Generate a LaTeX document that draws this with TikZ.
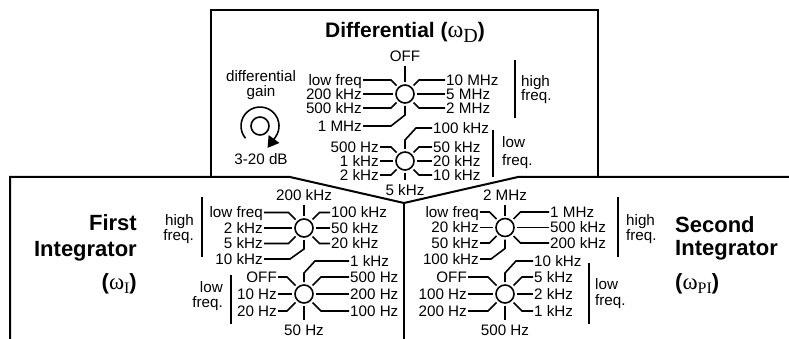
\documentclass[tikz,border=0pt]{standalone}
\usepackage{fontspec}
\setmainfont{Liberation Sans}
\newfontfamily\serifo{Liberation Serif}
\usetikzlibrary{calc,arrows.meta}
\newcommand\lblfont{\fontsize{15.2}{16}\selectfont}
\tikzset{
  lbl/.style={font=\lblfont, inner sep=1pt, text height=10.9pt, text depth=0pt},
  txt/.style={font=\lblfont, inner sep=0pt},
  swc/.style={circle, draw, minimum size=18pt, inner sep=0pt, line width=1.6pt},
  lead/.style={line width=1.6pt},
  barline/.style={line width=2pt},
  frame/.style={line width=2pt},
  ttl/.style={font=\fontsize{22}{24}\selectfont\bfseries, inner sep=0pt},
}
\newcommand\swset[6]{\def\swn{#1}\def\swcx{#2}\def\swcy{#3}\def\swdy{#4}\def\swxl{#5}\def\swxr{#6}\node[swc] (#1) at (#2,#3) {};}
\newcommand\swUL[1]{\node[lbl,anchor=east] (\swn-ul) at (\swxl,\swcy-\swdy) {#1};
  \draw[lead] (\swn-ul.east) -- ($(\swn)+(-\swdy,-\swdy)$) -- ($(\swn)+(-8.5,-8.5)$);}
\newcommand\swL[1]{\node[lbl,anchor=east] (\swn-l) at (\swxl,\swcy) {#1};
  \draw[lead] (\swn-l.east) -- ($(\swn)+(-12,0)$);}
\newcommand\swLL[1]{\node[lbl,anchor=east] (\swn-ll) at (\swxl,\swcy+\swdy) {#1};
  \draw[lead] (\swn-ll.east) -- ($(\swn)+(-\swdy,\swdy)$) -- ($(\swn)+(-8.5,8.5)$);}
\newcommand\swUR[1]{\node[lbl,anchor=west] (\swn-ur) at (\swxr,\swcy-\swdy) {#1};
  \draw[lead] (\swn-ur.west) -- ($(\swn)+(\swdy,-\swdy)$) -- ($(\swn)+(8.5,-8.5)$);}
\newcommand\swR[1]{\node[lbl,anchor=west] (\swn-r) at (\swxr,\swcy) {#1};
  \draw[lead] (\swn-r.west) -- ($(\swn)+(12,0)$);}
\newcommand\swLR[1]{\node[lbl,anchor=west] (\swn-lr) at (\swxr,\swcy+\swdy) {#1};
  \draw[lead] (\swn-lr.west) -- ($(\swn)+(\swdy,\swdy)$) -- ($(\swn)+(8.5,8.5)$);}
\newcommand\swU[2]{\node[lbl,anchor=south] (\swn-u) at ($(\swn)+(0,-#2)$) {#1};
  \draw[lead] ($(\swn)+(0,-12)$) -- ($(\swn-u.south)+(0,3)$);}
\newcommand\swD[2]{\node[lbl,anchor=north] (\swn-d) at ($(\swn)+(0,#2)$) {#1};
  \draw[lead] ($(\swn)+(0,12)$) -- ($(\swn-d.north)+(0,-3)$);}
\newcommand\swDL[2]{\node[lbl,anchor=east] (\swn-dl) at (\swxl,\swcy+#2) {#1};
  \draw[lead] ($(\swn)+(0,12)$) -- ($(\swn)+(0,21)$) -- ($(\swn)+(-14,#2)$) -- (\swn-dl.east);}
\newcommand\swUb[2]{\node[lbl,anchor=west] (\swn-ub) at (\swxr,\swcy-#2) {#1};
  \draw[lead] ($(\swn)+(0,-12)$) -- ($(\swn)+(0,-21)$) -- ($(\swn)+(11,-#2)$) -- (\swn-ub.west);}
\begin{document}
\begin{tikzpicture}[x=1pt,y=-1pt]
\useasboundingbox (0,0) rectangle (789,339);
% frame
\coordinate (bl) at (10,340);
\coordinate (lt) at (10,177);
\coordinate (vl) at (290,177);
\coordinate (apex) at (404,203);
\coordinate (vr) at (518,177);
\coordinate (rt) at (790,177);
\coordinate (tl0) at (211,177);
\coordinate (tl) at (211,10);
\coordinate (tr) at (598,10);
\coordinate (tr0) at (598,177);
\coordinate (bot) at (404,340);
\draw[frame] (bl) -- (lt) -- (vl) -- (apex) -- (vr) -- (rt);
\draw[frame] (tl0) -- (tl) -- (tr) -- (tr0);
\draw[frame] (apex) -- (bot);
% titles
\node[ttl,font=\fontsize{21}{22}\selectfont\bfseries,anchor=base] (dtitle) at (405,37.5)
  {Differential ({\serifo\mdseries\fontsize{24}{24}\selectfont ω}\raisebox{-5pt}{\serifo\mdseries\fontsize{20}{20}\selectfont D})};
\node[ttl,anchor=base east] (ft1) at (137,230) {First};
\node[ttl,anchor=base east] (ft2) at (137,256) {Integrator};
\node[ttl,anchor=base east] (ft3) at (137,289) {({\serifo\mdseries\fontsize{23}{23}\selectfont ω}\raisebox{-4pt}{\serifo\mdseries\fontsize{16}{16}\selectfont I})};
\node[ttl,anchor=base west] (st1) at (675,232) {Second};
\node[ttl,anchor=base west] (st2) at (675,255) {Integrator};
\node[ttl,anchor=base west] (st3) at (675,289) {({\serifo\mdseries\fontsize{23}{23}\selectfont ω}\raisebox{-4pt}{\serifo\mdseries\fontsize{16}{16}\selectfont PI})};
% gain knob
\node[txt,anchor=base] (dg1) at (261,82) {differential};
\node[txt,anchor=base] (dg2) at (261,97) {gain};
\node[txt,anchor=base] (dg3) at (261,165) {3-20 dB};
\node[swc,line width=1.6pt] (gknob) at (260,126) {};
\draw[line width=1.6pt,-{Triangle[length=11pt,width=13pt]}] ($(gknob)+(220:19pt)$) arc[start angle=220,end angle=-35,radius=19pt] -- ++(-8,11);
% range labels
\node[txt,anchor=base west] (dh1) at (521,87) {high};
\node[txt,anchor=base west] (dh2) at (521,101) {freq.};
\coordinate (dhb1) at (515,60); \coordinate (dhb2) at (515,118);
\draw[barline] (dhb1) -- (dhb2);
\node[txt,anchor=base west] (dl1) at (502,148) {low};
\node[txt,anchor=base west] (dl2) at (502,166) {freq.};
\coordinate (dlb1) at (493,130); \coordinate (dlb2) at (493,177);
\draw[barline] (dlb1) -- (dlb2);
\node[txt,anchor=base east] (fh1) at (194,225) {high};
\node[txt,anchor=base east] (fh2) at (194,240) {freq.};
\coordinate (fhb1) at (202,197); \coordinate (fhb2) at (202,257);
\draw[barline] (fhb1) -- (fhb2);
\node[txt,anchor=base east] (fl1) at (223,292) {low};
\node[txt,anchor=base east] (fl2) at (223,307) {freq.};
\coordinate (flb1) at (231,275); \coordinate (flb2) at (231,324);
\draw[barline] (flb1) -- (flb2);
\node[txt,anchor=base west] (sh1) at (626,225) {high};
\node[txt,anchor=base west] (sh2) at (626,240) {freq.};
\coordinate (shb1) at (618,197); \coordinate (shb2) at (618,257);
\draw[barline] (shb1) -- (shb2);
\node[txt,anchor=base west] (sl1) at (595,289) {low};
\node[txt,anchor=base west] (sl2) at (595,305) {freq.};
\coordinate (slb1) at (589,263); \coordinate (slb2) at (589,324);
\draw[barline] (slb1) -- (slb2);
% switches
\swset{da}{405}{94}{14}{363}{445}
\swU{OFF}{31}
\swUL{low freq}\swL{200 kHz}\swLL{500 kHz}\swDL{1 MHz}{32}
\swUR{10 MHz}\swR{5 MHz}\swLR{2 MHz}
\swset{db}{405}{161}{14}{380}{432}
\swUb{100 kHz}{33}
\swUL{500 Hz}\swL{1 kHz}\swLL{2 kHz}\swD{5 kHz}{22}
\swUR{50 kHz}\swR{20 kHz}\swLR{10 kHz}
\swset{fa}{304}{228}{15.5}{264}{330}
\swU{200 kHz}{26}
\swUL{low freq}\swL{2 kHz}\swLL{5 kHz}\swDL{10 kHz}{31}
\swUR{100 kHz}\swR{50 kHz}\swLR{20 kHz}
\swset{fb}{304}{294}{17}{278}{349}
\swUb{1 kHz}{33}
\swUL{OFF}\swL{10 Hz}\swLL{20 Hz}\swD{50 Hz}{29}
\swUR{500 Hz}\swR{200 Hz}\swLR{100 Hz}
\swset{sa}{505}{227.5}{15.5}{480}{549}
\swU{2 MHz}{26}
\swUL{low freq}\swL{20 kHz}\swLL{50 kHz}\swDL{100 kHz}{31.5}
\swUR{1 MHz}\swR{500 kHz}\swLR{200 kHz}
\swset{sb}{505}{294}{17}{468}{533}
\swUb{10 kHz}{33}
\swUL{OFF}\swL{100 Hz}\swLL{200 Hz}\swD{500 Hz}{29}
\swUR{5 kHz}\swR{2 kHz}\swLR{1 kHz}
\end{tikzpicture}
\end{document}
